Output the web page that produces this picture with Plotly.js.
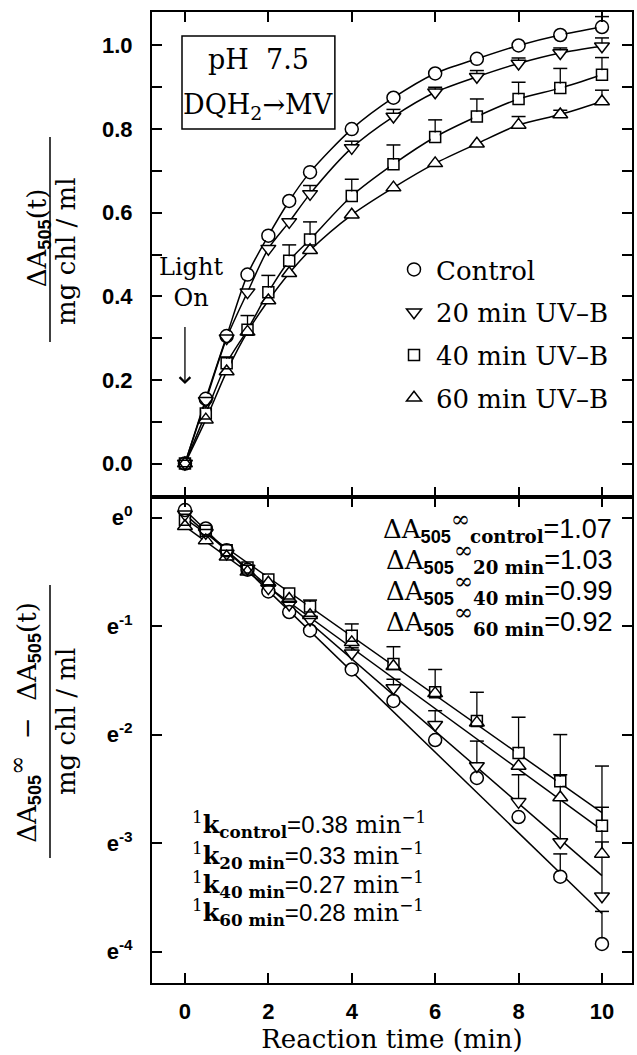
<!DOCTYPE html>
<html><head><meta charset="utf-8">
<script src="https://cdn.plot.ly/plotly-3.0.1.min.js"></script>
<style>html,body{margin:0;padding:0;background:#fff}</style>
</head><body>
<div id="chart" style="width:637px;height:1055px"></div>
<script>
// ---------- data ----------
const times = [0, 0.5, 1, 1.5, 2, 2.5, 3, 4, 5, 6, 7, 8, 9, 10];
const seriesNames = ['Control', '20 min UV–B', '40 min UV–B', '60 min UV–B'];
const symbols = ['circle', 'triangle-down', 'square', 'triangle-up'];

// top panel: ΔA505(t) / (mg chl/ml)
const aControl = [0, 0.155, 0.305, 0.452, 0.545, 0.628, 0.697, 0.800, 0.875, 0.933, 0.968, 1.000, 1.025, 1.044];
const a20min   = [0, 0.150, 0.300, 0.410, 0.514, 0.578, 0.645, 0.755, 0.830, 0.888, 0.925, 0.957, 0.982, 0.998];
const a40min   = [0, 0.120, 0.240, 0.320, 0.410, 0.485, 0.536, 0.640, 0.716, 0.781, 0.830, 0.872, 0.898, 0.930];
const a60min   = [0, 0.105, 0.220, 0.315, 0.390, 0.455, 0.510, 0.595, 0.660, 0.718, 0.765, 0.810, 0.835, 0.866];
const errControl = [0, 0, 0, 0, 0, 0, 0, 0, 0, 0, 0, 0, 0, 0.025];
const err20min   = [0, 0, 0, 0, 0, 0, 0.020, 0.016, 0.017, 0.012, 0.015, 0.013, 0.012, 0.020];
const err40min   = [0, 0, 0.015, 0.034, 0.040, 0.038, 0.042, 0.040, 0.046, 0.041, 0.042, 0.040, 0.047, 0.041];
const err60min   = [0, 0, 0, 0, 0, 0, 0, 0, 0, 0, 0, 0.020, 0.010, 0.027];

// bottom panel: ln[(ΔA505∞ − ΔA505(t)) / (mg chl/ml)]
const lnControl = [0.07, -0.10, -0.30, -0.48, -0.68, -0.87, -1.04, -1.40, -1.69, -2.05, -2.40, -2.76, -3.31, -3.93];
const ln20min   = [0.03, -0.14, -0.33, -0.47, -0.65, -0.80, -0.94, -1.25, -1.57, -1.91, -2.29, -2.62, -2.99, -3.49];
const ln40min   = [-0.02, -0.12, -0.30, -0.46, -0.57, -0.70, -0.82, -1.09, -1.35, -1.61, -1.875, -2.17, -2.43, -2.84];
const ln60min   = [-0.08, -0.21, -0.36, -0.50, -0.60, -0.75, -0.90, -1.15, -1.37, -1.62, -1.89, -2.29, -2.58, -3.10];
const errLnControl = [0, 0, 0, 0, 0, 0, 0, 0, 0, 0, 0, 0, 0.21, 0.30];
const errLn20min   = [0, 0, 0, 0, 0, 0, 0, 0.05, 0.08, 0.13, 0.23, 0.25, 0.62, 0.50];
const errLn40min   = [0, 0, 0, 0, 0, 0, 0.06, 0.11, 0.16, 0.21, 0.265, 0.33, 0.43, 0.55];
const errLn60min   = [0, 0, 0, 0, 0, 0, 0, 0, 0, 0, 0, 0, 0, 0.43];

// fitted straight lines (ln units) at start / end time
const fitTimes = [0, 10];
const fitControl = [0.07, -3.65];
const fit20min   = [0.03, -3.30];
const fit40min   = [-0.01, -2.72];
const fit60min   = [-0.08, -2.88];

const dAinfLabels = ['control', '20 min', '40 min', '60 min'];
const dAinfValues = ['1.07', '1.03', '0.99', '0.92'];
const kLabels = ['control', '20 min', '40 min', '60 min'];
const kValues = ['0.38', '0.33', '0.27', '0.28'];

const xTickVals = [0, 2, 4, 6, 8, 10];
const yTopTicks = [0, 0.2, 0.4, 0.6, 0.8, 1.0];
const yTopTickText = ['0.0', '0.2', '0.4', '0.6', '0.8', '1.0'];
const yTopMinor = [0.1, 0.3, 0.5, 0.7, 0.9];
const yBotTicks = [0, -1, -2, -3, -4];
const yBotTickText = ['e<sup>0</sup>', 'e<sup>-1</sup>', 'e<sup>-2</sup>', 'e<sup>-3</sup>', 'e<sup>-4</sup>'];

// ---------- styling ----------
const SERIF = 'DejaVu Serif, serif';
const SANS = 'Liberation Sans, Arial, sans-serif';
const sans = (s, px) => '<span style="font-family:Liberation Sans' + (px ? ';font-size:' + px + 'px' : '') + '">' + s + '</span>';
const sansB = s => '<span style="font-family:Liberation Sans;font-weight:bold">' + s + '</span>';
const inf = '<sup><span style="font-size:23px">∞</span></sup>';
const markerSizes = [13, 13, 11, 13];

const topY = [aControl, a20min, a40min, a60min];
const topErr = [errControl, err20min, err40min, err60min];
const botY = [lnControl, ln20min, ln40min, ln60min];
const botErr = [errLnControl, errLn20min, errLn40min, errLn60min];
const botFit = [fitControl, fit20min, fit40min, fit60min];

function errSegments(ys, errs) {
  const x = [], y = [], cx = [], cy = [];
  times.forEach((t, i) => {
    if (errs[i] > 0) {
      x.push(t, t, null); y.push(ys[i], ys[i] + errs[i], null);
      cx.push(t); cy.push(ys[i] + errs[i]);
    }
  });
  return {x, y, cx, cy};
}

const traces = [];
topY.forEach(ys => traces.push({x: times, y: ys, xaxis: 'x', yaxis: 'y', mode: 'lines',
  line: {color: 'black', width: 1.5, shape: 'spline', smoothing: 0.8}, showlegend: false, hoverinfo: 'skip'}));
botFit.forEach(ys => traces.push({x: fitTimes, y: ys, xaxis: 'x2', yaxis: 'y2', mode: 'lines',
  line: {color: 'black', width: 1.5}, showlegend: false, hoverinfo: 'skip'}));
[[topY, topErr, 'x', 'y'], [botY, botErr, 'x2', 'y2']].forEach(([Ys, Es, xa, ya]) => {
  Ys.forEach((ys, k) => {
    const s = errSegments(ys, Es[k]);
    traces.push({x: s.x, y: s.y, xaxis: xa, yaxis: ya, mode: 'lines', line: {color: 'black', width: 1.3},
      showlegend: false, hoverinfo: 'skip', connectgaps: false});
    traces.push({x: s.cx, y: s.cy, xaxis: xa, yaxis: ya, mode: 'markers',
      marker: {symbol: 'line-ew-open', size: 10, color: 'black', line: {width: 1.5}},
      showlegend: false, hoverinfo: 'skip'});
  });
});
[[topY, 'x', 'y'], [botY, 'x2', 'y2']].forEach(([Ys, xa, ya]) => {
  Ys.forEach((ys, k) => traces.push({x: times, y: ys, xaxis: xa, yaxis: ya, mode: 'markers',
    marker: {symbol: symbols[k], size: markerSizes[k] - 2, color: 'white', line: {width: 0}},
    showlegend: false, hoverinfo: 'skip'}));
});
topY.forEach((ys, k) => traces.push({x: times, y: ys, xaxis: 'x', yaxis: 'y', mode: 'markers',
  name: seriesNames[k], legendgroup: 'g' + k,
  marker: {symbol: symbols[k] + '-open', size: markerSizes[k], color: 'black', line: {width: 1.5}}}));
botY.forEach((ys, k) => traces.push({x: times, y: ys, xaxis: 'x2', yaxis: 'y2', mode: 'markers',
  showlegend: false,
  marker: {symbol: symbols[k] + '-open', size: markerSizes[k], color: 'black', line: {width: 1.5}}}));

// ---------- layout ----------
const axisCommon = {
  showline: true, linecolor: 'black', linewidth: 2, mirror: 'ticks',
  ticks: 'inside', ticklen: 10, tickwidth: 2, tickcolor: 'black',
  showgrid: false, zeroline: false,
  tickfont: {family: SANS, size: 22, color: 'black', weight: 'bold'}
};
const split = 0.5005;

const annotations = [];
const ann = o => annotations.push(Object.assign({xref: 'paper', yref: 'paper', showarrow: false,
  xanchor: 'center', yanchor: 'middle'}, o));
// y titles (fractions)
ann({x: -0.2375, y: 0.767, textangle: -90,
  text: 'ΔA<sub>' + sansB('505') + '</sub>(t)', font: {family: SERIF, size: 26, color: 'black'}});
ann({x: -0.179, y: 0.753, textangle: -90,
  text: 'mg chl / ml', font: {family: SERIF, size: 26, color: 'black'}});
ann({x: -0.265, y: 0.2688, textangle: -90,
  text: 'ΔA<sub>' + sansB('505') + '</sub>' + inf + '  −  ΔA<sub>' + sansB('505') + '</sub>(t)',
  font: {family: SERIF, size: 26, color: 'black'}});
ann({x: -0.179, y: 0.2688, textangle: -90,
  text: 'mg chl / ml', font: {family: SERIF, size: 26, color: 'black'}});
// pH box text
ann({x: 0.221, y: 0.951, text: 'pH  7.5', font: {family: SERIF, size: 27, color: 'black'}});
ann({x: 0.221, y: 0.903, text: 'DQH<sub>2</sub>→MV', font: {family: SERIF, size: 27, color: 'black'}});
// Light On
ann({x: 0.081, y: 0.721, text: 'Light<br>On', font: {family: SERIF, size: 24, color: 'black'}});
annotations.push({xref: 'x', yref: 'y', x: 0, y: 0.19, axref: 'x', ayref: 'y', ax: 0, ay: 0.33,
  text: '', showarrow: true, arrowhead: 4, arrowsize: 1.6, arrowwidth: 1.3, arrowcolor: 'black'});
// ΔA∞ values
const dAy = [0.4697, 0.4378, 0.4058, 0.3739];
dAinfLabels.forEach((lab, i) => ann({x: 0.962, y: dAy[i], xanchor: 'right',
  text: 'ΔA<sub>' + sansB('505') + '</sub>' + inf + '<sub><b>' + lab + '</b></sub>' + sans('=' + dAinfValues[i], 27),
  font: {family: SERIF, size: 26, color: 'black'}}));
// rate constants
const ky = [0.163, 0.131, 0.101, 0.0722];
kLabels.forEach((lab, i) => ann({x: 0.079, y: ky[i], xanchor: 'left',
  text: '<sup>1</sup><b>k</b><sub><b>' + lab + '</b></sub>' + sans('=' + kValues[i]) + ' min<sup>−1</sup>',
  font: {family: SERIF, size: 24, color: 'black'}}));

const layout = {
  width: 637, height: 1055,
  margin: {l: 152, r: 5, t: 12, b: 72},
  paper_bgcolor: 'white', plot_bgcolor: 'white',
  font: {family: SERIF, color: 'black'},
  showlegend: true,
  legend: {x: 0.5, y: 0.759, xanchor: 'left', yanchor: 'top', traceorder: 'grouped', tracegroupgap: 6,
    font: {family: SERIF, size: 26, color: 'black'}, bgcolor: 'rgba(0,0,0,0)', itemwidth: 34},
  xaxis: Object.assign({}, axisCommon, {domain: [0, 1], anchor: 'y', range: [-0.79, 10.72],
    tickvals: xTickVals, showticklabels: false}),
  yaxis: Object.assign({}, axisCommon, {domain: [split, 1], anchor: 'x', range: [-0.08, 1.08],
    tickvals: yTopTicks, ticktext: yTopTickText, ticklabelstandoff: 13,
    minor: {tickvals: yTopMinor, ticks: 'inside', ticklen: 10, tickwidth: 2, tickcolor: 'black'}}),
  xaxis2: Object.assign({}, axisCommon, {domain: [0, 1], anchor: 'y2', range: [-0.79, 10.72],
    tickvals: xTickVals, ticklabelstandoff: 8,
    title: {text: 'Reaction time (min)', font: {family: SERIF, size: 26, color: 'black'}, standoff: 2}}),
  yaxis2: Object.assign({}, axisCommon, {domain: [0, split], anchor: 'x2', range: [-4.29, 0.19],
    tickvals: yBotTicks, ticktext: yBotTickText, ticklabelstandoff: 13}),
  shapes: [
    {type: 'line', xref: 'paper', yref: 'paper', x0: -0.2125, x1: -0.2125, y0: 0.6601, y1: 0.8713,
      line: {color: 'black', width: 1.5}},
    {type: 'line', xref: 'paper', yref: 'paper', x0: -0.2125, x1: -0.2125, y0: 0.1287, y1: 0.4099,
      line: {color: 'black', width: 1.5}},
    {type: 'rect', xref: 'paper', yref: 'paper', x0: 0.0625, x1: 0.381, y0: 0.8795, y1: 0.9753,
      line: {color: 'black', width: 1.5}, fillcolor: 'white', layer: 'below'}
  ],
  annotations: annotations
};

Plotly.newPlot('chart', traces, layout, {displayModeBar: false, staticPlot: true});
</script>
</body></html>
